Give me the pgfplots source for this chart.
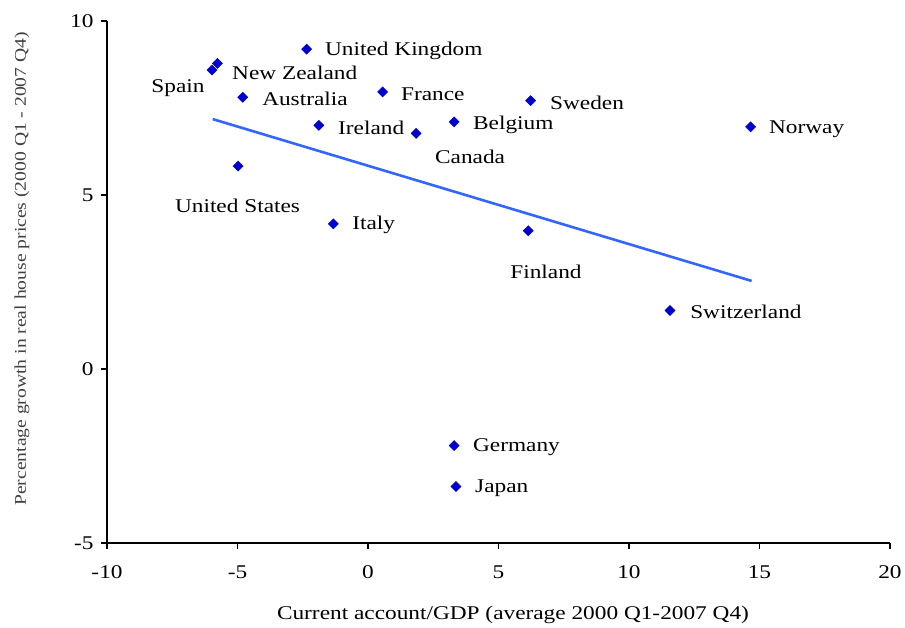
\documentclass[border=0pt]{standalone}
\usepackage{fontspec}
\setmainfont[FakeStretch=1.2]{Liberation Serif}
\usepackage{pgfplots}
\pgfplotsset{compat=1.18}
\usepackage{pgfplotstable}
\definecolor{markblue}{RGB}{0,0,205}
\definecolor{lineblue}{RGB}{51,102,255}
\pgfplotstableread{
x y
-2.35 9.19
-5.77 8.78
-5.98 8.59
-4.80 7.81
0.56 7.96
-1.88 7.00
1.84 6.77
3.30 7.10
6.23 7.71
14.66 6.96
-4.98 5.83
-1.33 4.17
6.14 3.97
11.57 1.68
3.30 -2.20
3.37 -3.38
}\points
\pgfplotstableread{
x y
-5.95 7.18
14.70 2.53
}\trend
\begin{document}
\begin{tikzpicture}[font=\fontsize{19.5}{23}\selectfont, lbl/.style={anchor=west, inner sep=0pt, yshift=-2.5bp}, lblc/.style={anchor=center, inner sep=0pt, yshift=-2bp}]
\begin{axis}[
  scale only axis,
  width=783bp, height=522bp,
  xmin=-10, xmax=20, ymin=-5, ymax=10,
  xtick={-10,-5,0,5,10,15,20},
  ytick={-5,0,5,10},
  axis lines=left,
  axis line style={-, line width=1.2bp, black},
  tick style={line width=1.2bp, black},
  tick align=outside,
  major tick length=6bp,
  /pgf/number format/assume math mode=true,
  xticklabel style={yshift=-13bp},
  yticklabel style={xshift=-4bp},
  clip=false,
  xlabel={Current account/GDP (average 2000 Q1-2007 Q4)},
  ylabel={Percentage growth in real house prices (2000 Q1 - 2007 Q4)},
  every axis x label/.style={at={(axis description cs:0.5185,-0.138)}, anchor=center},
  every axis y label/.style={at={(axis description cs:-0.1086,0.525)}, anchor=center, rotate=90, font=\fontsize{16.4}{19}\selectfont, text=black!75},
]
\path (axis description cs:-0.1367,-0.1628) rectangle (axis description cs:1.0192,1.0402);
\addplot[only marks, mark=square*, mark size=3.6bp, mark options={rotate=45, fill=markblue, draw=markblue}] table[x=x,y=y] {\points};
\addplot[lineblue, line width=2.6bp, no marks] table[x=x,y=y] {\trend};
\node[lbl] at (axis cs:-1.65,9.22) {United Kingdom};
\node[lbl] at (axis cs:-5.21,8.59) {New Zealand};
\node[lblc] at (axis cs:-7.28,8.13) {Spain};
\node[lbl] at (axis cs:-4.06,7.82) {Australia};
\node[lbl] at (axis cs:1.26,7.96) {France};
\node[lbl] at (axis cs:-1.15,7.01) {Ireland};
\node[lblc] at (axis cs:3.91,6.16) {Canada};
\node[lbl] at (axis cs:4.02,7.10) {Belgium};
\node[lbl] at (axis cs:6.97,7.73) {Sweden};
\node[lbl] at (axis cs:15.36,6.95) {Norway};
\node[lblc] at (axis cs:-5.0,4.74) {United States};
\node[lbl] at (axis cs:-0.61,4.20) {Italy};
\node[lblc] at (axis cs:6.82,2.84) {Finland};
\node[lbl] at (axis cs:12.34,1.70) {Switzerland};
\node[lbl] at (axis cs:4.02,-2.18) {Germany};
\node[lbl] at (axis cs:4.10,-3.36) {Japan};
\end{axis}
\end{tikzpicture}
\end{document}
